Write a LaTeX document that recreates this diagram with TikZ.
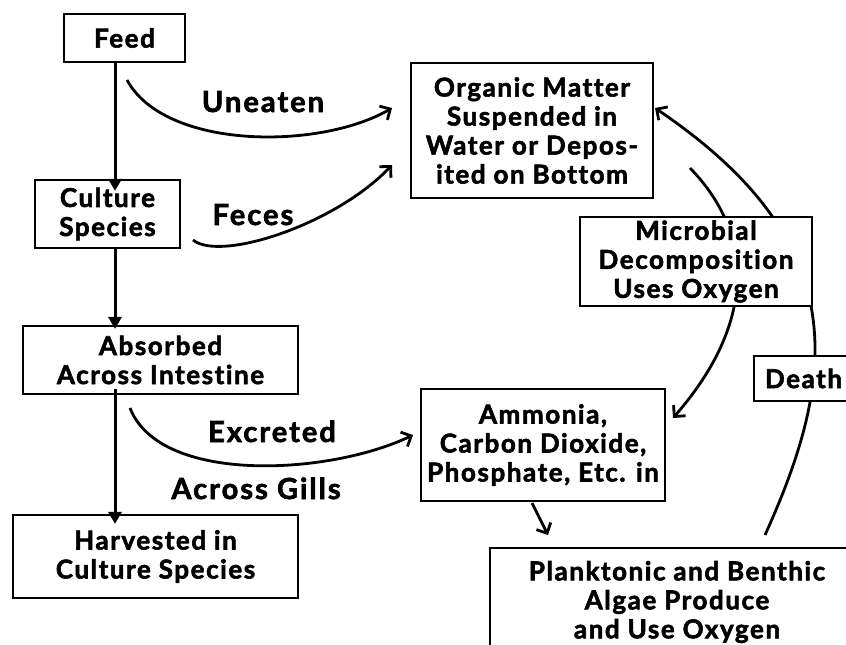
\documentclass[tikz,border=0pt]{standalone}
\usepackage{fontspec}
\setmainfont{Lato}[LetterSpace=6, Ligatures=NoCommon, BoldFeatures={FakeBold=2.2}]
\newfontfamily\lblfont{Lato}[LetterSpace=7, Ligatures=NoCommon, BoldFeatures={FakeBold=2.2}]
\usetikzlibrary{arrows.meta,backgrounds}
\begin{document}
\begin{tikzpicture}[x=1pt,y=-1pt,
  box/.style={draw, line width=2.2pt, fill=white, align=center, inner sep=0pt,
    font=\fontsize{26}{29}\selectfont\bfseries},
  lbl/.style={font=\lblfont\fontsize{29}{29}\selectfont\bfseries, inner sep=0pt, anchor=base},
  flow/.style={line width=3pt, -{Triangle[length=12pt,width=13pt]}},
  curvearrow/.style={line width=2.8pt, -{Straight Barb[length=8pt,width=16pt]}}]
\useasboundingbox (0,0) rectangle (846,645);
% boxes
\node[box, minimum width=121pt, minimum height=48pt] (feed) at (124.5,38) {Feed};
\node[box, minimum width=145pt, minimum height=68pt] (culture) at (107.5,214) {Culture\\Species};
\node[box, minimum width=275pt, minimum height=68pt] (absorbed) at (160.5,360) {Absorbed\\Across Intestine};
\node[box, minimum width=285pt, minimum height=83pt] (harvest) at (155.5,556.5) {Harvested in\\Culture Species};
\node[box, minimum width=242pt, minimum height=135pt] (organic) at (532,130.5) {Organic Matter\\Suspended in\\Water or Depos-\\ited on Bottom};
\node[box, minimum width=232pt, minimum height=89pt] (microbial) at (696,261.5) {Microbial\\Decomposition\\Uses Oxygen};
\node[box, minimum width=244pt, minimum height=112pt] (ammonia) at (543,445) {Ammonia,\\Carbon Dioxide,\\Phosphate, Etc. in};
\node[box, align=left, text width=90pt, minimum width=112pt, minimum height=45pt] (death) at (810,378.5) {Death};
\node[box, minimum width=374pt, minimum height=108pt] (plankton) at (677,602) {Planktonic and Benthic\\Algae Produce\\and Use Oxygen};
% labels
\node[lbl] (luneaten) at (263,112) {Uneaten};
\node[lbl] (lfeces) at (253,225) {Feces};
\node[lbl] (lexcreted) at (272,442) {Excreted};
\node[lbl] (lgills) at (256,499) {Across Gills};
% free ends
\coordinate (spine) at (115,0);
\coordinate (u0) at (127,80);
\coordinate (u1) at (392,108);
\coordinate (f0) at (193,240);
\coordinate (f1) at (392,165);
\coordinate (e0) at (130,408);
\coordinate (e1) at (413,435);
\coordinate (m0) at (690,168);
\coordinate (m1) at (673,418);
\coordinate (d0) at (765,535);
\coordinate (d1) at (655,108);
\coordinate (a0) at (532,503);
\coordinate (a1) at (548,535);
% vertical flow
\draw[flow] (feed.south -| spine) -- ([yshift=-12pt]culture.north -| spine);
\draw[flow] (culture.south -| spine) -- ([yshift=-4pt]absorbed.north -| spine);
\draw[flow] ([yshift=6pt]absorbed.south -| spine) -- ([yshift=-10pt]harvest.north -| spine);
% curved arrows
\draw[curvearrow] (u0) .. controls (165,150) and (320,150) .. (u1);
\draw[curvearrow] (f0) .. controls (220,262) and (335,225) .. (f1);
\draw[curvearrow] (e0) .. controls (160,485) and (330,475) .. (e1);
\draw[curvearrow] (a0) -- (a1);
\begin{scope}[on background layer]
\draw[curvearrow] (m0) .. controls (760,240) and (750,330) .. (m1);
\draw[curvearrow] (d0) .. controls (840,370) and (850,240) .. (d1);
\end{scope}
\end{tikzpicture}
\end{document}
